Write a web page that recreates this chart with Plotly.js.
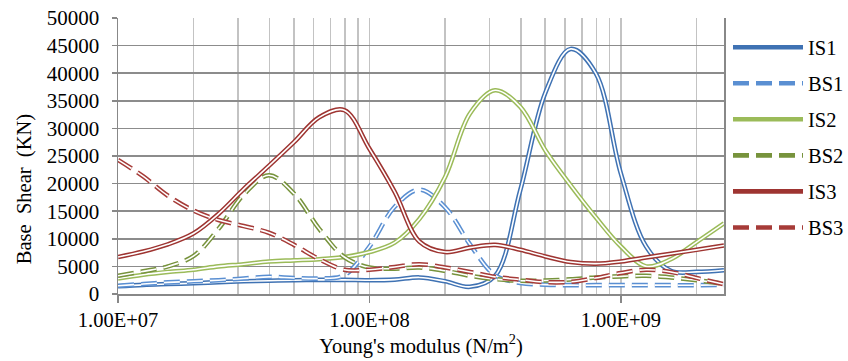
<!DOCTYPE html>
<html>
<head>
<meta charset="utf-8">
<script src="https://cdn.plot.ly/plotly-3.0.1.min.js"></script>
<style>html,body{margin:0;padding:0;background:#fff;}#chart{width:848px;height:361px;}</style>
</head>
<body>
<div id="chart"></div>
<script>
// Young's modulus (N/m^2) sample positions (even steps on the log axis)
const youngsModulus = [1.00e7, 1.26e7, 1.58e7, 2.00e7, 2.51e7, 3.16e7, 3.98e7, 5.01e7, 6.31e7, 7.94e7,
                       1.00e8, 1.26e8, 1.58e8, 2.00e8, 2.51e8, 3.16e8, 3.98e8, 5.01e8, 6.31e8, 7.94e8,
                       1.00e9, 1.26e9, 1.58e9, 2.00e9, 2.57e9];
// Base shear (KN)
const IS1 = [1400,1650,1800,1950,2150,2300,2400,2500,2550,2550,2500,2600,3000,2300,1300,3300,18800,36500,44400,40000,21800,8600,4200,4000,4300];
const BS1 = [1500,1800,2100,2300,2500,2800,3100,2900,2800,3400,8600,15800,18900,15700,9000,3400,2000,1700,1600,1600,1600,1600,1600,1600,1650];
const IS2 = [2800,3500,4000,4400,5000,5400,5900,6100,6300,6700,7600,9300,13600,21200,32700,36900,33900,26000,19700,13900,8600,5000,6300,9400,12800];
const BS2 = [3300,4100,5000,6900,11800,18000,21500,18200,11800,6700,4800,4600,4800,4200,3300,2700,2400,2450,2650,3000,3200,3300,3000,2500,1850];
const IS3 = [6700,7700,9000,11000,14500,19000,23200,27500,32000,33300,26300,18500,9500,7600,8400,8900,8000,6800,5800,5500,5900,6600,7300,8000,8800];
const BS3 = [24300,21300,17800,15100,13400,12300,11100,8900,6300,4400,4400,4900,5400,4800,4000,3100,2600,2150,2200,2900,3800,4400,4000,2900,1750];

const seriesNames = ['IS1','BS1','IS2','BS2','IS3','BS3'];
const seriesValues = [IS1, BS1, IS2, BS2, IS3, BS3];
const seriesColors = ['#3f72b3','#5a8fd2','#9bbb59','#77933c','#9e3431','#a63b38'];
const seriesDashed = [false, true, false, true, false, true];

const xTickVals = [1e7, 1e8, 1e9];
const xTickText = ['1.00E+07','1.00E+08','1.00E+09'];

const minorVals = [];
for (let d = 1e7; d <= 1e9; d *= 10) for (let k = 2; k <= 9; k++) minorVals.push(k * d);

const traces = [];
seriesNames.forEach((name, i) => {
  const dash = seriesDashed[i] ? '16px,7px' : 'solid';
  traces.push({
    x: youngsModulus, y: seriesValues[i], name: name, type: 'scatter', mode: 'lines',
    line: {color: seriesColors[i], width: 4.6, shape: 'spline', smoothing: 1, dash: dash},
    legendgroup: name, showlegend: true, hoverinfo: 'skip'
  });
  traces.push({
    x: youngsModulus, y: seriesValues[i], name: name, type: 'scatter', mode: 'lines',
    line: {color: '#ffffff', width: 1.6, shape: 'spline', smoothing: 1, dash: dash},
    legendgroup: name, showlegend: false, hoverinfo: 'skip'
  });
});

const fontFamily = 'Times New Roman';

const layout = {
  width: 848, height: 361,
  margin: {l: 118, r: 124, t: 18, b: 67, pad: 0, autoexpand: false},
  paper_bgcolor: '#ffffff', plot_bgcolor: '#ffffff',
  font: {family: fontFamily, size: 20, color: '#000'},
  showlegend: true,
  legend: {
    x: 1.0066, xanchor: 'left', y: 0.966, yanchor: 'top',
    font: {family: fontFamily, size: 20.5, color: '#000'},
    itemwidth: 70, tracegroupgap: 6.4, traceorder: 'grouped',
    bgcolor: 'rgba(0,0,0,0)', borderwidth: 0
  },
  xaxis: {
    type: 'log', range: [7, 9.41], autorange: false,
    tickmode: 'array', tickvals: xTickVals, ticktext: xTickText,
    ticks: 'outside', ticklen: 7, tickwidth: 1.5, tickcolor: '#888',
    tickfont: {family: fontFamily, size: 20.5, color: '#000'},
    showgrid: true, gridcolor: '#c3c3c3', gridwidth: 1.5,
    minor: {tickmode: 'array', tickvals: minorVals, showgrid: true, gridcolor: '#c3c3c3', gridwidth: 1.5, ticks: ''},
    showline: true, linecolor: '#888', linewidth: 1.5, mirror: false,
    zeroline: false,
    title: {text: "Young's modulus (N/m<sup>2</sup>)", font: {family: fontFamily, size: 20.5, color: '#000'}, standoff: 4}
  },
  yaxis: {
    range: [0, 50000], autorange: false, dtick: 5000, tick0: 0, tickformat: 'd',
    ticks: 'outside', ticklen: 5, tickwidth: 1.5, tickcolor: '#888',
    tickfont: {family: fontFamily, size: 21, color: '#000'},
    ticklabelstandoff: 8,
    showgrid: true, gridcolor: '#8c8c8c', gridwidth: 1.5,
    showline: true, linecolor: '#888', linewidth: 1.5, mirror: true,
    zeroline: false
  },
  annotations: [{
    text: 'Base\u00a0 Shear\u00a0 (KN)', textangle: -90,
    xref: 'paper', yref: 'paper', x: -0.155, y: 0.38, xanchor: 'center', yanchor: 'middle',
    showarrow: false, font: {family: fontFamily, size: 20.5, color: '#000'}
  }]
};

Plotly.newPlot('chart', traces, layout, {staticPlot: true, displayModeBar: false});
</script>
</body>
</html>
